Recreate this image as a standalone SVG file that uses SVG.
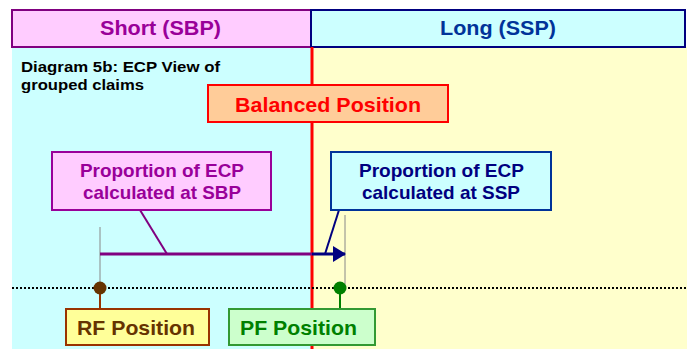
<svg xmlns="http://www.w3.org/2000/svg" width="687" height="349" viewBox="0 0 687 349">
<style>
text{font-family:"Liberation Sans",Arial,sans-serif;font-weight:bold;text-anchor:middle}
.hdr{font-size:20px}
.bal{font-size:21px}
.prop{font-size:18.5px}
.pos{font-size:21px}
.ttl{font-size:14.5px;text-anchor:start}
</style>
<defs>
<marker id="ah" viewBox="0 0 13 16" refX="12" refY="8" markerWidth="13" markerHeight="16" markerUnits="userSpaceOnUse" orient="auto">
<path d="M0,0 L13,8 L0,16 z" fill="#000080"/>
</marker>
</defs>
<rect width="687" height="349" fill="#ffffff"/>
<rect x="12" y="47" width="299" height="302" fill="#ccffff"/>
<rect x="311" y="47" width="376" height="302" fill="#ffffcc"/>
<g id="short-header">
<rect x="12" y="10" width="299" height="37" fill="#ffccff" stroke="#800080" stroke-width="2"/>
<text class="hdr" x="160.5" y="35" fill="#990099" textLength="121" lengthAdjust="spacingAndGlyphs">Short (SBP)</text>
</g>
<g id="long-header">
<rect x="311" y="10" width="374" height="37" fill="#ccffff" stroke="#000080" stroke-width="2"/>
<text class="hdr" x="498" y="35" fill="#003399" textLength="116" lengthAdjust="spacingAndGlyphs">Long (SSP)</text>
</g>
<g id="title">
<text class="ttl" x="21" y="72" fill="#000" textLength="199" lengthAdjust="spacingAndGlyphs">Diagram 5b: ECP View of</text>
<text class="ttl" x="21" y="90" fill="#000" textLength="123" lengthAdjust="spacingAndGlyphs">grouped claims</text>
</g>
<g id="connectors">
<line x1="312" y1="47" x2="312" y2="349" stroke="#ff0000" stroke-width="3"/>
<line x1="12" y1="288" x2="687" y2="288" stroke="#000" stroke-width="2" stroke-dasharray="2,2"/>
<line x1="100" y1="227" x2="100" y2="288" stroke="#888" stroke-width="1"/>
<line x1="345" y1="215" x2="345" y2="288" stroke="#888" stroke-width="1"/>
<line x1="100" y1="254" x2="312" y2="254" stroke="#800080" stroke-width="3"/>
<line x1="312" y1="254" x2="345" y2="254" stroke="#000080" stroke-width="3" marker-end="url(#ah)"/>
<line x1="140" y1="210" x2="167" y2="254" stroke="#800080" stroke-width="2"/>
<line x1="339" y1="210" x2="325" y2="254" stroke="#000080" stroke-width="2"/>
<line x1="100" y1="288" x2="100" y2="309" stroke="#993300" stroke-width="2"/>
<circle cx="100" cy="288" r="6.5" fill="#663300"/>
<line x1="340" y1="288" x2="340" y2="309" stroke="#008000" stroke-width="2"/>
<circle cx="340" cy="288" r="6.5" fill="#008000"/>
</g>
<g id="balanced">
<rect x="208" y="85" width="240" height="37" fill="#ffcc99" stroke="#ff0000" stroke-width="2"/>
<text class="bal" x="328" y="111.5" fill="#ff0000" textLength="186" lengthAdjust="spacingAndGlyphs">Balanced Position</text>
</g>
<g id="sbp-box">
<rect x="52" y="152" width="219" height="58" fill="#ffccff" stroke="#990099" stroke-width="2"/>
<text class="prop" x="162" y="177" fill="#990099" textLength="164" lengthAdjust="spacingAndGlyphs">Proportion of ECP</text>
<text class="prop" x="162" y="199" fill="#990099" textLength="158" lengthAdjust="spacingAndGlyphs">calculated at SBP</text>
</g>
<g id="ssp-box">
<rect x="331" y="152" width="220" height="58" fill="#ccffff" stroke="#003399" stroke-width="2"/>
<text class="prop" x="441.5" y="177" fill="#000080" textLength="165" lengthAdjust="spacingAndGlyphs">Proportion of ECP</text>
<text class="prop" x="441" y="199" fill="#000080" textLength="158" lengthAdjust="spacingAndGlyphs">calculated at SSP</text>
</g>
<g id="rf">
<rect x="66" y="309" width="143" height="36" fill="#ffff99" stroke="#993300" stroke-width="2"/>
<text class="pos" x="136" y="335" fill="#663300" textLength="118" lengthAdjust="spacingAndGlyphs">RF Position</text>
</g>
<g id="pf">
<rect x="229" y="309" width="146" height="36" fill="#ccffcc" stroke="#339933" stroke-width="2"/>
<text class="pos" x="298.5" y="335" fill="#008000" textLength="117" lengthAdjust="spacingAndGlyphs">PF Position</text>
</g>
</svg>
